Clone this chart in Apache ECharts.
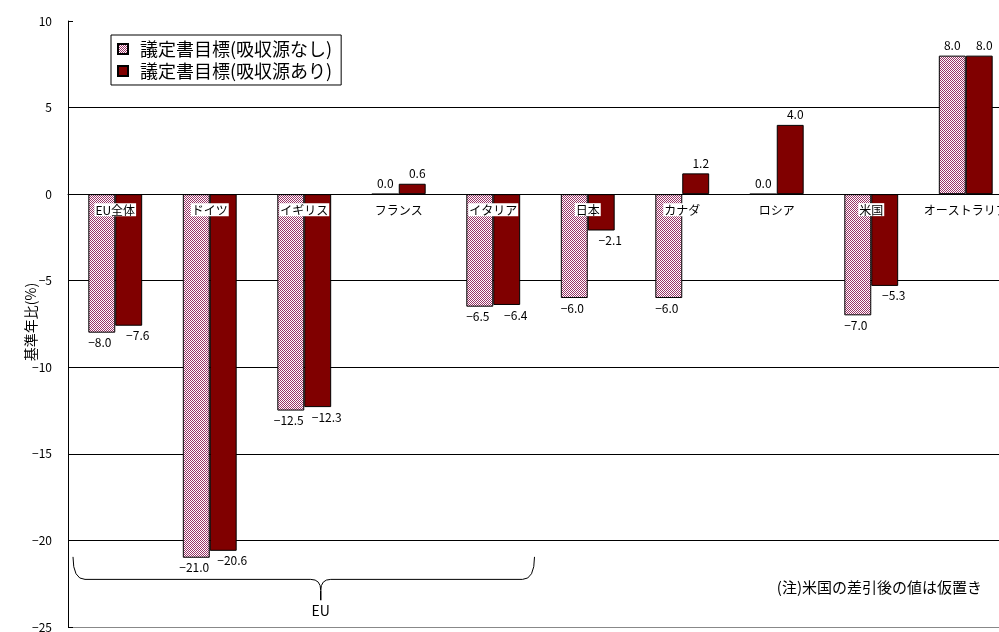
<!DOCTYPE html>
<html><head><meta charset="utf-8">
<script src="https://cdn.jsdelivr.net/npm/echarts@6/dist/echarts.min.js"></script>
<style>html,body{margin:0;padding:0;background:#fff}#c{width:999px;height:632px}</style>
</head><body><div id="c"></div>
<script>
// ---- data ----
const categories = ['EU全体','ドイツ','イギリス','フランス','イタリア','日本','カナダ','ロシア','米国','オーストラリア'];
const withoutSinks = [-8.0, -21.0, -12.5, 0.0, -6.5, -6.0, -6.0, 0.0, -7.0, 8.0];
const withSinks    = [-7.6, -20.6, -12.3, 0.6, -6.4, -2.1, 1.2, 4.0, -5.3, 8.0];
const seriesNames = ['議定書目標(吸収源なし)', '議定書目標(吸収源あり)'];
const yMin = -25, yMax = 10, yInterval = 5;
const yAxisTitle = '基準年比(%)';
const groupLabel = 'EU';
const groupFrom = 0, groupTo = 4;
const noteText = '(注)米国の差引後の値は仮置き';

// ---- styling ----
const FONT = '"Noto Sans CJK JP", "Noto Sans", sans-serif';
const GRID = { left: 68, top: 21, width: 945, height: 606 };
const pc = document.createElement('canvas'); pc.width = 2; pc.height = 2;
const pctx = pc.getContext('2d');
pctx.fillStyle = '#ffffff'; pctx.fillRect(0, 0, 2, 2);
pctx.fillStyle = '#993366'; pctx.fillRect(0, 0, 1, 1); pctx.fillRect(1, 1, 1, 1);
const patternColor = { image: pc, repeat: 'repeat' };
const darkColor = '#800000';

const fmt = v => (v < 0 ? '\u2212' : '') + Math.abs(v).toFixed(1);
function items(vals, negOffset, posOffset) {
  return vals.map(v => ({
    value: v,
    label: v < 0 ? { position: 'bottom', distance: 4, offset: negOffset }
                 : { position: 'top', distance: 4, offset: posOffset }
  }));
}
// x-axis sits on the zero line: offset from the bottom edge computed from the value scale
const zeroOffset = -((0 - yMin) / (yMax - yMin)) * GRID.height;

const chart = echarts.init(document.getElementById('c'), null, { renderer: 'canvas' });
const option = {
  animation: false,
  backgroundColor: '#ffffff',
  textStyle: { fontFamily: FONT },
  grid: Object.assign({ containLabel: false, outerBoundsMode: 'none' }, GRID),
  legend: {
    orient: 'vertical', left: 111, top: 35,
    backgroundColor: '#ffffff', borderColor: '#000', borderWidth: 1,
    padding: [5, 9, 5, 6], itemGap: 4, itemWidth: 10, itemHeight: 10,
    icon: 'rect',
    textStyle: { fontSize: 18, color: '#000', fontFamily: FONT, padding: [0, 0, 0, 7] },
    data: seriesNames
  },
  xAxis: {
    type: 'category', data: categories, z: 10,
    position: 'bottom', offset: zeroOffset,
    axisLine: { onZero: false, lineStyle: { color: '#000', width: 1 } },
    axisTick: { inside: true, length: 4, lineStyle: { color: '#000' } },
    axisLabel: {
      margin: 9, fontSize: 12, color: '#000', fontFamily: FONT,
      backgroundColor: '#ffffff', padding: [1, 1, 0, 1], interval: 0
    },
    splitLine: { show: false }
  },
  yAxis: {
    type: 'value', min: yMin, max: yMax, interval: yInterval,
    axisLine: { show: true, lineStyle: { color: '#000' } },
    axisTick: { show: true, inside: true, length: 5, lineStyle: { color: '#000' } },
    axisLabel: {
      margin: 16, fontSize: 12, color: '#000', fontFamily: FONT,
      formatter: v => (v < 0 ? '\u2212' + (-v) : '' + v)
    },
    splitLine: {
      show: true, showMinLine: true, showMaxLine: false,
      lineStyle: { color: ['#888888', '#000', '#000', '#000', '#000', '#000', '#000', '#000'], width: 1 }
    }
  },
  series: [
    {
      name: seriesNames[0], type: 'bar', barGap: '0%', barCategoryGap: '43%',
      itemStyle: { color: patternColor, borderColor: '#000', borderWidth: 1 },
      label: { show: true, formatter: p => fmt(p.value), fontSize: 12, color: '#000', fontFamily: FONT },
      data: items(withoutSinks, [-2, 0], [0, 0])
    },
    {
      name: seriesNames[1], type: 'bar', barGap: '0%', barCategoryGap: '43%',
      itemStyle: { color: darkColor, borderColor: '#000', borderWidth: 1 },
      label: { show: true, formatter: p => fmt(p.value), fontSize: 12, color: '#000', fontFamily: FONT },
      data: items(withSinks, [9, 0], [5, 0])
    }
  ]
};
chart.setOption(option);

// ---- annotations: EU brace and note ----
const cx = i => chart.convertToPixel({ xAxisIndex: 0 }, categories[i]);
const cy = v => chart.convertToPixel({ yAxisIndex: 0 }, v);
const band = cx(1) - cx(0);
const xL = cx(groupFrom) - band / 2 + 5;
const xR = cx(groupTo) + band / 2 - 6;
const xC = (xL + xR) / 2 + 17;
const yTop = cy(-20.95), yMid = cy(-22.25), yTip = cy(-23.45);
const r = 10;
const ln = { stroke: '#000', lineWidth: 1, fill: null };
const g = [];
g.push({ type: 'bezierCurve', shape: { x1: xL, y1: yTop, cpx1: xL, cpy1: yMid, x2: xL + 12, y2: yMid }, style: ln, z: 20 });
g.push({ type: 'line', shape: { x1: xL + 12, y1: yMid, x2: xC - r, y2: yMid }, style: ln, z: 20 });
g.push({ type: 'bezierCurve', shape: { x1: xC - r, y1: yMid, cpx1: xC, cpy1: yMid, x2: xC, y2: yMid + 11 }, style: ln, z: 20 });
g.push({ type: 'bezierCurve', shape: { x1: xC + r, y1: yMid, cpx1: xC, cpy1: yMid, x2: xC, y2: yMid + 11 }, style: ln, z: 20 });
g.push({ type: 'line', shape: { x1: xC, y1: yMid + 11, x2: xC, y2: yTip }, style: { stroke: '#000', lineWidth: 1.5 }, z: 20 });
g.push({ type: 'line', shape: { x1: xC + r, y1: yMid, x2: xR - 12, y2: yMid }, style: ln, z: 20 });
g.push({ type: 'bezierCurve', shape: { x1: xR, y1: yTop, cpx1: xR, cpy1: yMid, x2: xR - 12, y2: yMid }, style: ln, z: 20 });
g.push({ type: 'text', x: xC, y: cy(-24.05), style: { text: groupLabel, font: '14px ' + FONT, fill: '#000', align: 'center', verticalAlign: 'middle' }, z: 20 });
g.push({ type: 'text', x: 982, y: 587, style: { text: noteText, font: '15px ' + FONT, fill: '#000', align: 'right', verticalAlign: 'middle' }, z: 20 });
g.push({ type: 'text', x: 31, y: 322, rotation: Math.PI / 2, style: { text: yAxisTitle, font: '14px ' + FONT, fill: '#000', align: 'center', verticalAlign: 'middle' }, z: 20 });
chart.setOption({ graphic: g });
</script>
</body></html>
